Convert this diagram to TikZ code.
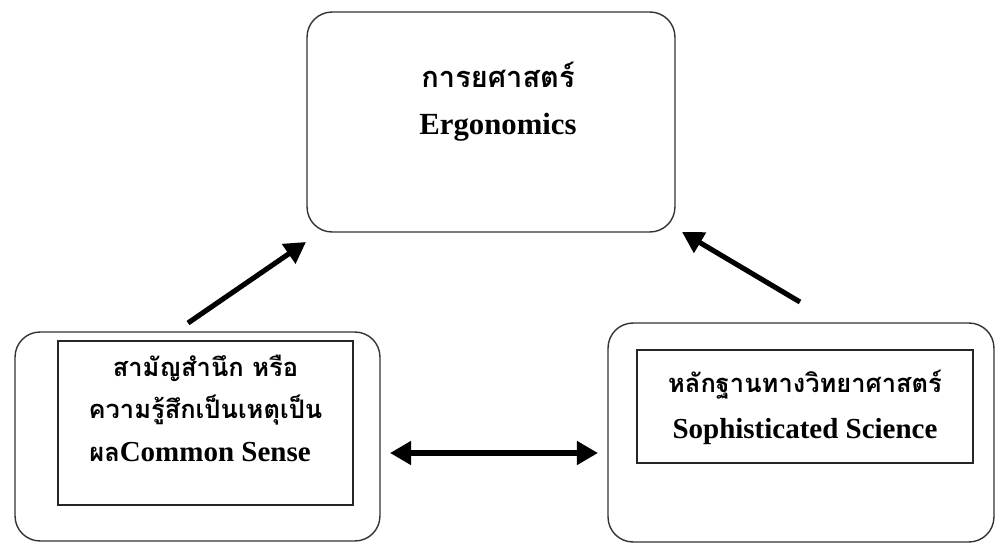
\documentclass[tikz,border=0pt]{standalone}
\usepackage{fontspec}
\setmainfont{Liberation Serif}
\newfontfamily\thaifont[Script=Thai]{Loma}
\usetikzlibrary{arrows.meta,positioning}

\begin{document}
\begin{tikzpicture}[x=0.02cm,y=-0.02cm,
	outer/.style={draw=black!80,line width=0.8pt,rounded corners=0.5cm,minimum width=#1},
	inner/.style={draw=black!85,line width=0.8pt,align=center,inner sep=0pt},
	thai/.style={font=\thaifont\bfseries\fontsize{14.5}{16}\selectfont},
	eng/.style={font=\bfseries\fontsize{16.5}{18}\selectfont},
	bigarrow/.style={line width=2.9pt,-{Triangle[length=12pt,width=13pt]}}]
	\useasboundingbox (0,0) rectangle (995,544);
	\node[outer=7.36cm,minimum height=4.4cm] (top) at (491,122) {};
	\node[thai,font=\thaifont\bfseries\fontsize{16.5}{18}\selectfont] (topthai) at (498,75) {การยศาสตร์};
	\node[eng,font=\bfseries\fontsize{17.5}{19}\selectfont] (topeng) at (498,127) {Ergonomics};
	\node[outer=7.3cm,minimum height=4.18cm] (left) at (197.5,436.5) {};
	\node[inner,minimum width=5.9cm,minimum height=3.28cm] (lbox) at (205.5,423) {};
	\node[thai] (l1) at (205.5,368) {สามัญสำนึก หรือ};
	\node[thai] (l2) at (205.5,410) {ความรู้สึกเป็นเหตุเป็น};
	\node[thai] (l3) at (200,452) {ผล\rmfamily\bfseries\fontsize{16.5}{18}\selectfont Common Sense};
	\node[outer=7.72cm,minimum height=4.38cm] (right) at (801,432.5) {};
	\node[inner,minimum width=6.72cm,minimum height=2.26cm] (rbox) at (805,406.5) {};
	\node[thai] (r1) at (805,385) {หลักฐานทางวิทยาศาสตร์};
	\node[eng] (r2) at (805,432) {Sophisticated Science};
	\coordinate (la) at (188,323);
	\coordinate (lb) at (306,242);
	\coordinate (ra) at (800,302);
	\coordinate (rb) at (682,232);
	\coordinate (ma) at (390,453);
	\coordinate (mb) at (598,453);
	\draw[bigarrow] (la) -- (lb);
	\draw[bigarrow] (ra) -- (rb);
	\draw[bigarrow,{Triangle[length=12pt,width=13pt]}-{Triangle[length=12pt,width=13pt]}] (ma) -- (mb);
\end{tikzpicture}
\end{document}
